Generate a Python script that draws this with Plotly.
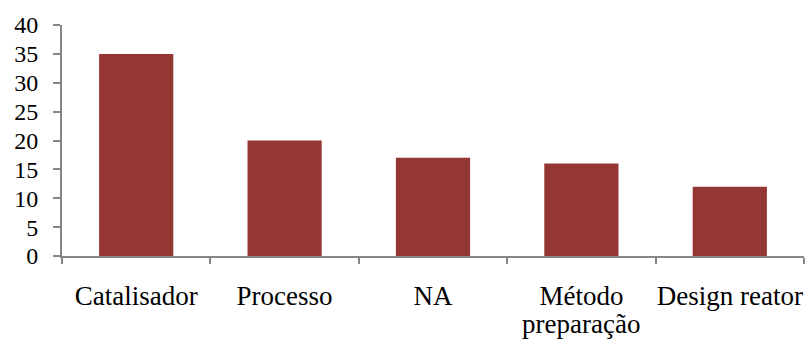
import plotly.graph_objects as go

categories = ["Catalisador", "Processo", "NA", "Método preparação", "Design reator"]
values = [35, 20, 17, 16, 12]
y_ticks = [0, 5, 10, 15, 20, 25, 30, 35, 40]
# category labels are wrapped over two lines where needed
label_lines = [["Catalisador"], ["Processo"], ["NA"], ["Método", "preparação"], ["Design reator"]]

bar_color = "#943634"
axis_color = "#868686"
font_family = "Liberation Serif"
x_font_size = 27
y_font_size = 24
line_gap = 27  # distance between wrapped label lines, px

fig = go.Figure(
    go.Bar(
        x=categories,
        y=values,
        marker=dict(color=bar_color, line=dict(width=0)),
        width=0.5,
    )
)

fig.update_layout(
    width=805,
    height=340,
    margin=dict(l=62, r=1, t=25, b=84),
    paper_bgcolor="white",
    plot_bgcolor="white",
    showlegend=False,
    font=dict(family=font_family, color="black"),
)

fig.update_xaxes(
    showline=True,
    linecolor=axis_color,
    linewidth=2,
    ticks="outside",
    tickson="boundaries",
    ticklen=6,
    tickwidth=2,
    tickcolor=axis_color,
    tickvals=categories,
    ticktext=[lines[0] for lines in label_lines],
    tickangle=0,
    automargin=False,
    tickfont=dict(size=x_font_size, family=font_family),
    ticklabelstandoff=15,
    showgrid=False,
)

# extra lines of wrapped labels, set just below the first line
for cat, lines in zip(categories, label_lines):
    for i, extra in enumerate(lines[1:], start=1):
        fig.add_annotation(
            x=cat,
            y=0,
            xref="x",
            yref="y",
            text=extra,
            showarrow=False,
            yanchor="middle",
            yshift=-(41 + i * line_gap),
            font=dict(size=x_font_size, family=font_family, color="black"),
        )

fig.update_yaxes(
    range=[0, 40],
    tickvals=y_ticks,
    showline=True,
    linecolor=axis_color,
    linewidth=2,
    ticks="outside",
    ticklen=7,
    tickwidth=2,
    tickcolor=axis_color,
    tickfont=dict(size=y_font_size, family=font_family),
    ticklabelstandoff=10,
    automargin=False,
    showgrid=False,
    zeroline=False,
)

fig.write_html("out.html")
